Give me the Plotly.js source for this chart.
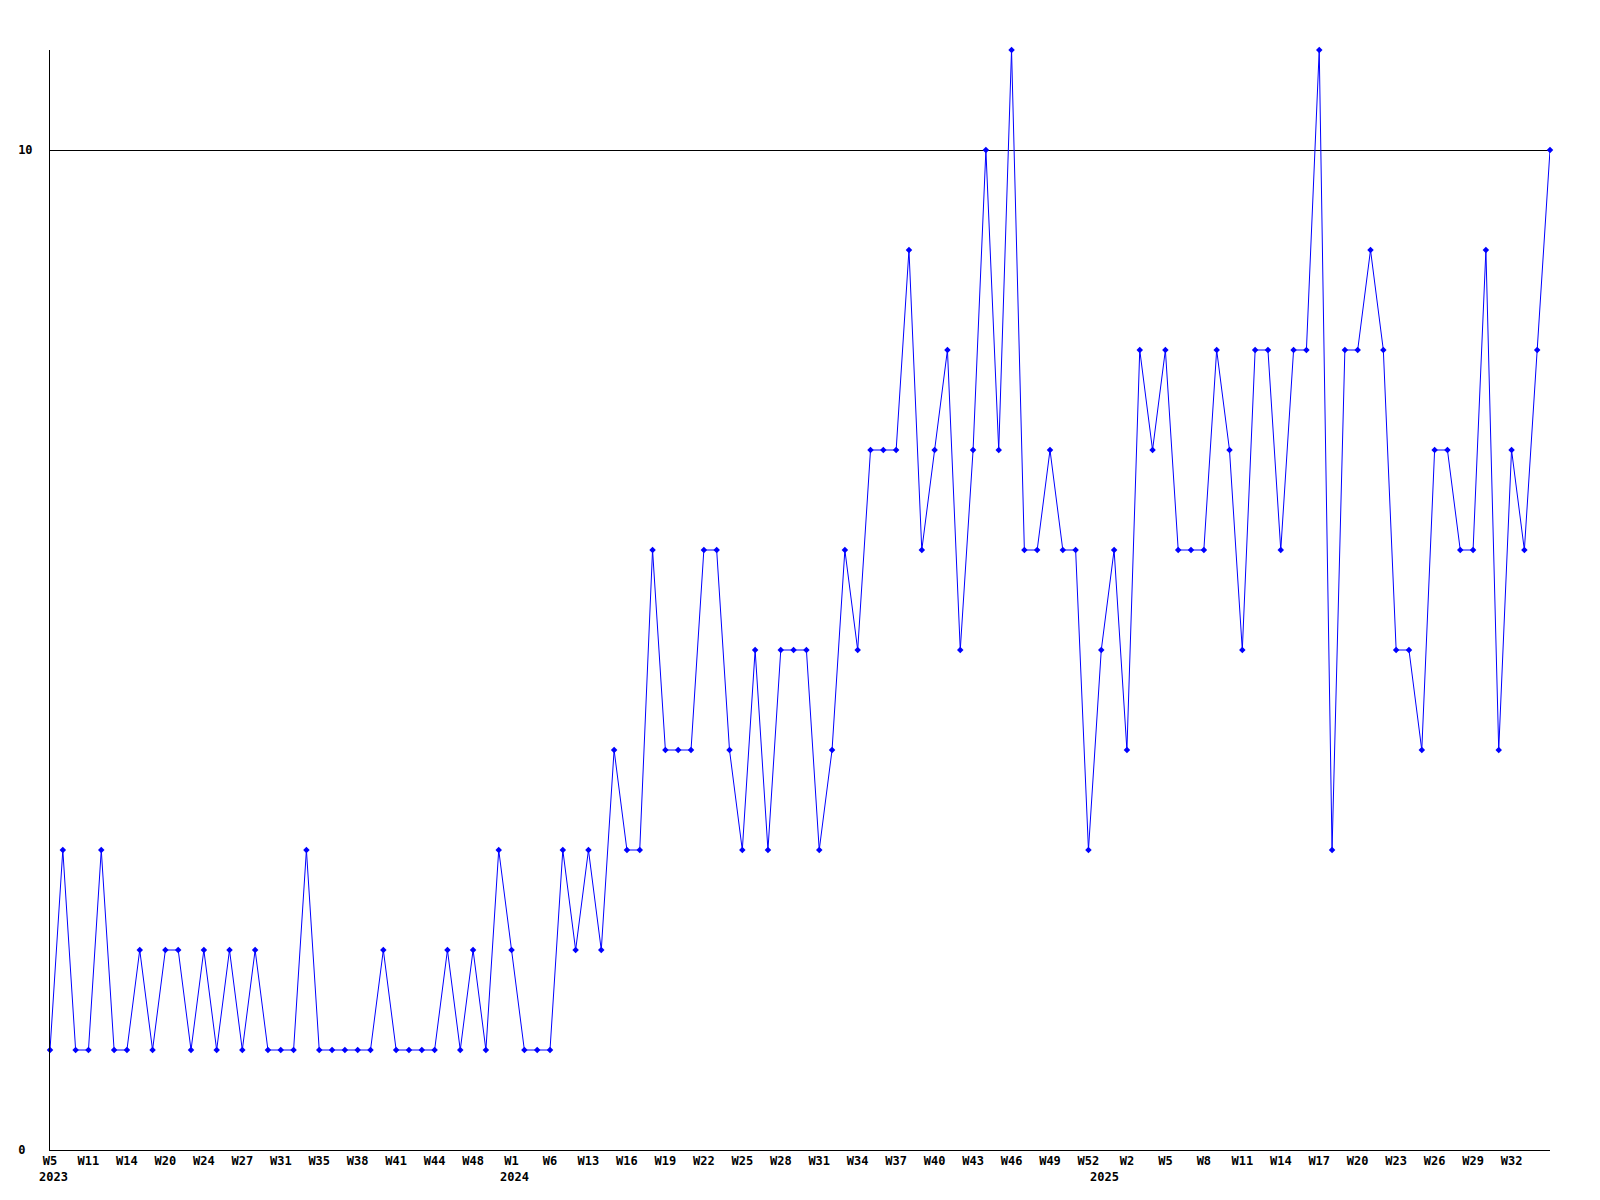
<!DOCTYPE html>
<html><head><meta charset="utf-8">
<script src="https://cdn.plot.ly/plotly-3.0.1.min.js"></script>
<style>html,body{margin:0;padding:0;background:#fff}#chart{width:1600px;height:1200px}</style>
</head><body><div id="chart"></div>
<script>
// Weekly counts, one per data week (weeks without data are not plotted)
const values = [
  1,3,1,1,3,1,1,2,1,2,
  2,1,2,1,2,1,2,1,1,1,
  3,1,1,1,1,1,2,1,1,1,
  1,2,1,2,1,3,2,1,1,1,
  3,2,3,2,4,3,3,6,4,4,
  4,6,6,4,3,5,3,5,5,5,
  3,4,6,5,7,7,7,9,6,7,
  8,5,7,10,7,11,6,6,7,6,
  6,3,5,6,4,8,7,8,6,6,
  6,8,7,5,8,8,6,8,8,11,
  3,8,8,9,8,5,5,4,7,7,
  6,6,9,4,7,6,8,10
];
// Week labels shown on every third point
const tickLabels = ['W5','W11','W14','W20','W24','W27','W31','W35','W38','W41','W44','W48',
  'W1','W6','W13','W16','W19','W22','W25','W28','W31','W34','W37','W40','W43','W46','W49','W52',
  'W2','W5','W8','W11','W14','W17','W20','W23','W26','W29','W32'];
const labelEvery = 3;
// Year labels and the point where each year starts
const yearLabels = ['2023','2024','2025'];
const yearStartIndex = [0, 36, 82];
const yTickVals = [0, 10];
const yTickText = ['0\u00a0', '10'];

const xIdx = values.map((_, i) => i);
const tickVals = tickLabels.map((_, k) => k * labelEvery);
const font = {family: 'DejaVu Sans Mono, monospace', size: 12, color: '#000', weight: 'bold'};

const trace = {
  x: xIdx, y: values, type: 'scatter', mode: 'lines+markers',
  line: {color: '#0000ff', width: 1},
  marker: {color: '#0000ff', symbol: 'diamond', size: 5},
  cliponaxis: false, hoverinfo: 'x+y'
};

const layout = {
  width: 1600, height: 1200,
  margin: {l: 50, r: 50, t: 50, b: 50},
  paper_bgcolor: '#fff', plot_bgcolor: '#fff',
  showlegend: false,
  font: font,
  xaxis: {
    range: [0, xIdx.length - 1], tickmode: 'array', tickvals: tickVals, ticktext: tickLabels,
    showgrid: false, zeroline: false, showline: true, linecolor: '#000', linewidth: 1,
    ticks: '', tickfont: font, tickangle: 0, fixedrange: true
  },
  yaxis: {
    range: [0, 11], tickmode: 'array', tickvals: yTickVals, ticktext: yTickText,
    showgrid: true, gridcolor: '#000', gridwidth: 1, zeroline: false,
    showline: true, linecolor: '#000', linewidth: 1,
    ticks: '', tickfont: font, ticklabelstandoff: 14, fixedrange: true
  },
  annotations: yearLabels.map((t, k) => ({
    text: t, x: yearStartIndex[k], xref: 'x', y: 0, yref: 'paper',
    yanchor: 'top', xanchor: 'center', xshift: 3, yshift: -18,
    showarrow: false, font: font
  }))
};

Plotly.newPlot('chart', [trace], layout, {displayModeBar: false, staticPlot: true});
</script>
</body></html>
